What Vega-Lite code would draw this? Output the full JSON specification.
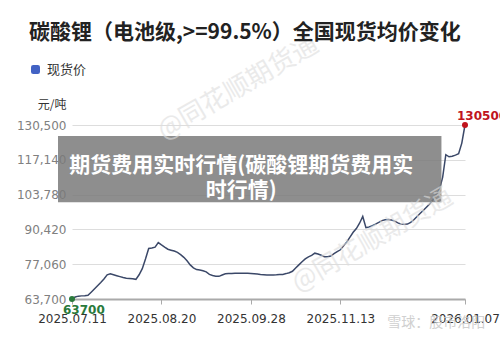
{
  "$schema": "https://vega.github.io/schema/vega-lite/v6.json",
  "width": 393,
  "height": 174,
  "autosize": {"type": "none"},
  "padding": {"left": 72, "top": 125, "right": 35, "bottom": 41},
  "background": "white",
  "title": {
    "text": "碳酸锂（电池级,>=99.5%）全国现货均价变化",
    "anchor": "start",
    "frame": "group",
    "dx": -43,
    "dy": 31,
    "font": "Noto Sans CJK SC",
    "fontSize": 21,
    "fontWeight": "bold",
    "color": "#222222",
    "offset": 20
  },
  "config": {
    "view": {"stroke": null},
    "font": "DejaVu Sans",
    "axis": {"labelOverlap": false, "labelBound": false, "labelFlush": false}
  },
  "datasets": {
    "prices": [
      {"date": "2025.07.11", "price": 63700},
      {"date": "2025.07.14", "price": 64450},
      {"date": "2025.07.15", "price": 64800},
      {"date": "2025.07.16", "price": 64900},
      {"date": "2025.07.17", "price": 64950},
      {"date": "2025.07.18", "price": 65100},
      {"date": "2025.07.21", "price": 66300},
      {"date": "2025.07.22", "price": 67550},
      {"date": "2025.07.23", "price": 68800},
      {"date": "2025.07.24", "price": 70000},
      {"date": "2025.07.25", "price": 71350},
      {"date": "2025.07.28", "price": 72950},
      {"date": "2025.07.29", "price": 73350},
      {"date": "2025.07.30", "price": 73000},
      {"date": "2025.07.31", "price": 72650},
      {"date": "2025.08.01", "price": 72300},
      {"date": "2025.08.04", "price": 71950},
      {"date": "2025.08.05", "price": 71700},
      {"date": "2025.08.06", "price": 71600},
      {"date": "2025.08.07", "price": 71450},
      {"date": "2025.08.08", "price": 71250},
      {"date": "2025.08.11", "price": 73000},
      {"date": "2025.08.12", "price": 75350},
      {"date": "2025.08.13", "price": 79050},
      {"date": "2025.08.14", "price": 83100},
      {"date": "2025.08.15", "price": 83250},
      {"date": "2025.08.18", "price": 83600},
      {"date": "2025.08.19", "price": 85350},
      {"date": "2025.08.20", "price": 84450},
      {"date": "2025.08.21", "price": 83600},
      {"date": "2025.08.22", "price": 82800},
      {"date": "2025.08.25", "price": 82450},
      {"date": "2025.08.26", "price": 82100},
      {"date": "2025.08.27", "price": 81600},
      {"date": "2025.08.28", "price": 80750},
      {"date": "2025.08.29", "price": 79700},
      {"date": "2025.09.01", "price": 78350},
      {"date": "2025.09.02", "price": 76800},
      {"date": "2025.09.03", "price": 75650},
      {"date": "2025.09.04", "price": 75000},
      {"date": "2025.09.05", "price": 74800},
      {"date": "2025.09.08", "price": 74550},
      {"date": "2025.09.09", "price": 74100},
      {"date": "2025.09.10", "price": 73150},
      {"date": "2025.09.11", "price": 72750},
      {"date": "2025.09.12", "price": 72450},
      {"date": "2025.09.15", "price": 72400},
      {"date": "2025.09.16", "price": 72900},
      {"date": "2025.09.17", "price": 73350},
      {"date": "2025.09.18", "price": 73450},
      {"date": "2025.09.19", "price": 73450},
      {"date": "2025.09.22", "price": 73550},
      {"date": "2025.09.23", "price": 73600},
      {"date": "2025.09.24", "price": 73600},
      {"date": "2025.09.25", "price": 73600},
      {"date": "2025.09.26", "price": 73550},
      {"date": "2025.09.28", "price": 73500},
      {"date": "2025.09.29", "price": 73400},
      {"date": "2025.09.30", "price": 73300},
      {"date": "2025.10.09", "price": 73150},
      {"date": "2025.10.10", "price": 73050},
      {"date": "2025.10.13", "price": 72950},
      {"date": "2025.10.14", "price": 72900},
      {"date": "2025.10.15", "price": 72950},
      {"date": "2025.10.16", "price": 73000},
      {"date": "2025.10.17", "price": 73100},
      {"date": "2025.10.20", "price": 73150},
      {"date": "2025.10.21", "price": 73450},
      {"date": "2025.10.22", "price": 73800},
      {"date": "2025.10.23", "price": 74350},
      {"date": "2025.10.24", "price": 75600},
      {"date": "2025.10.27", "price": 76800},
      {"date": "2025.10.28", "price": 78000},
      {"date": "2025.10.29", "price": 79100},
      {"date": "2025.10.30", "price": 79900},
      {"date": "2025.10.31", "price": 80450},
      {"date": "2025.11.03", "price": 81300},
      {"date": "2025.11.04", "price": 80950},
      {"date": "2025.11.05", "price": 80500},
      {"date": "2025.11.06", "price": 79950},
      {"date": "2025.11.07", "price": 79900},
      {"date": "2025.11.10", "price": 80200},
      {"date": "2025.11.11", "price": 81100},
      {"date": "2025.11.12", "price": 81850},
      {"date": "2025.11.13", "price": 82600},
      {"date": "2025.11.14", "price": 84100},
      {"date": "2025.11.17", "price": 85600},
      {"date": "2025.11.18", "price": 87450},
      {"date": "2025.11.19", "price": 89300},
      {"date": "2025.11.20", "price": 90750},
      {"date": "2025.11.21", "price": 92800},
      {"date": "2025.11.24", "price": 95400},
      {"date": "2025.11.25", "price": 91100},
      {"date": "2025.11.26", "price": 91350},
      {"date": "2025.11.27", "price": 91850},
      {"date": "2025.11.28", "price": 92450},
      {"date": "2025.12.01", "price": 93100},
      {"date": "2025.12.02", "price": 93800},
      {"date": "2025.12.03", "price": 94150},
      {"date": "2025.12.04", "price": 94200},
      {"date": "2025.12.05", "price": 94000},
      {"date": "2025.12.08", "price": 93600},
      {"date": "2025.12.09", "price": 92950},
      {"date": "2025.12.10", "price": 92400},
      {"date": "2025.12.11", "price": 92350},
      {"date": "2025.12.12", "price": 92450},
      {"date": "2025.12.15", "price": 93100},
      {"date": "2025.12.16", "price": 94100},
      {"date": "2025.12.17", "price": 95350},
      {"date": "2025.12.18", "price": 96600},
      {"date": "2025.12.19", "price": 97800},
      {"date": "2025.12.22", "price": 99050},
      {"date": "2025.12.23", "price": 100250},
      {"date": "2025.12.24", "price": 101800},
      {"date": "2025.12.25", "price": 103750},
      {"date": "2025.12.26", "price": 105750},
      {"date": "2025.12.29", "price": 110400},
      {"date": "2025.12.30", "price": 119100},
      {"date": "2025.12.31", "price": 118300},
      {"date": "2026.01.02", "price": 118500},
      {"date": "2026.01.04", "price": 118950},
      {"date": "2026.01.05", "price": 119450},
      {"date": "2026.01.06", "price": 123550},
      {"date": "2026.01.07", "price": 130500}
    ],
    "single": [{}]
  },
  "data": {"name": "prices"},
  "layer": [
    {
      "mark": {"type": "line", "strokeWidth": 1.5, "interpolate": "linear"},
      "encoding": {
        "x": {
          "field": "date",
          "type": "ordinal",
          "sort": null,
          "scale": {"type": "point", "padding": 0},
          "axis": {
            "title": null,
            "values": ["2025.07.11", "2025.08.20", "2025.09.28", "2025.11.13", "2026.01.07"],
            "labelAngle": 0,
            "labelAlign": "center",
            "labelBaseline": "top",
            "labelFont": "DejaVu Sans",
            "labelFontSize": 12,
            "labelColor": "#333333",
            "labelPadding": 9,
            "labelOverlap": false,
            "labelFlush": false,
            "labelBound": false,
            "tickSize": 5,
            "tickColor": "#aaaaaa",
            "domainColor": "#aaaaaa",
            "domainWidth": 2,
            "grid": false
          }
        },
        "y": {
          "field": "price",
          "type": "quantitative",
          "scale": {"domain": [63700, 130500], "nice": false, "zero": false},
          "axis": {
            "title": "元/吨",
            "values": [63700, 77060, 90420, 103780, 117140, 130500],
            "tickCount": 6,
            "format": ",d",
            "labelFont": "DejaVu Sans",
            "labelFontSize": 12,
            "labelColor": "#808080",
            "labelPadding": 6,
            "labelOverlap": false,
            "labelFlush": false,
            "labelBound": false,
            "ticks": false,
            "domain": false,
            "gridColor": "#dddddd",
            "titleAngle": 0,
            "titleFont": "Noto Sans CJK SC",
            "titleFontSize": 12,
            "titleFontWeight": "normal",
            "titleColor": "#333333",
            "titleAlign": "right",
            "titleBaseline": "middle",
            "titleX": -6,
            "titleY": -21
          }
        },
        "color": {
          "datum": "现货价",
          "type": "nominal",
          "scale": {"range": ["#3b4868"]},
          "legend": {
            "title": null,
            "orient": "none",
            "legendX": -43,
            "legendY": -62,
            "padding": 0,
            "symbolType": "M-1,-0.5Q-1,-1,-0.5,-1L0.5,-1Q1,-1,1,-0.5L1,0.5Q1,1,0.5,1L-0.5,1Q-1,1,-1,0.5Z",
            "symbolSize": 81,
            "labelFont": "Noto Sans CJK SC",
            "labelFontSize": 13,
            "labelColor": "#333333",
            "labelOffset": 5,
            "encode": {"symbols": {"update": {"fill": {"value": "#4262c4"}, "stroke": {"value": "#4262c4"}, "strokeWidth": {"value": 0}}}}
          }
        }
      }
    },
    {
      "transform": [{"filter": "datum.date === '2025.07.11'"}],
      "mark": {"type": "circle", "size": 36, "color": "#2a7a3b", "opacity": 1},
      "encoding": {
        "x": {"field": "date", "type": "ordinal"},
        "y": {"field": "price", "type": "quantitative"}
      }
    },
    {
      "transform": [{"filter": "datum.date === '2025.07.11'"}],
      "mark": {"type": "text", "align": "left", "baseline": "alphabetic", "dx": -9, "dy": 15, "font": "DejaVu Sans", "fontSize": 12, "fontWeight": "bold", "color": "#2a7a3b"},
      "encoding": {
        "x": {"field": "date", "type": "ordinal"},
        "y": {"field": "price", "type": "quantitative"},
        "text": {"field": "price", "type": "quantitative", "format": "d"}
      }
    },
    {
      "transform": [{"filter": "datum.date === '2026.01.07'"}],
      "mark": {"type": "circle", "size": 36, "color": "#c0141e", "opacity": 1},
      "encoding": {
        "x": {"field": "date", "type": "ordinal"},
        "y": {"field": "price", "type": "quantitative"}
      }
    },
    {
      "transform": [{"filter": "datum.date === '2026.01.07'"}],
      "mark": {"type": "text", "align": "left", "baseline": "alphabetic", "dx": -8, "dy": -5, "font": "DejaVu Sans", "fontSize": 12, "fontWeight": "bold", "color": "#c0141e"},
      "encoding": {
        "x": {"field": "date", "type": "ordinal"},
        "y": {"field": "price", "type": "quantitative"},
        "text": {"field": "price", "type": "quantitative", "format": "d"}
      }
    },
    {
      "data": {"name": "single"},
      "mark": {"type": "rect", "color": "#7a7a7a", "opacity": 0.85, "xOffset": -14, "x2Offset": 2},
      "encoding": {
        "x": {"datum": "2025.07.11", "type": "ordinal"},
        "x2": {"datum": "2025.12.26"},
        "y": {"datum": 126250, "type": "quantitative"},
        "y2": {"datum": 100850}
      }
    },
    {
      "data": {"name": "single"},
      "mark": {"type": "text", "text": "期货费用实时行情(碳酸锂期货费用实\n时行情)", "lineBreak": "\n", "lineHeight": 25, "align": "center", "baseline": "middle", "font": "Noto Sans CJK SC", "fontSize": 21, "fontWeight": "bold", "color": "#ffffff"},
      "encoding": {
        "x": {"datum": "2025.09.24", "type": "ordinal"},
        "y": {"datum": 114900, "type": "quantitative"}
      }
    },
    {
      "data": {"name": "single"},
      "mark": {"type": "text", "text": "@同花顺期货通", "angle": -30, "font": "Noto Sans CJK SC", "fontSize": 26, "color": "#dddddd", "opacity": 0.6, "align": "center", "baseline": "middle"},
      "encoding": {
        "x": {"datum": "2025.09.23", "type": "ordinal"},
        "y": {"datum": 144700, "type": "quantitative"}
      }
    },
    {
      "data": {"name": "single"},
      "mark": {"type": "text", "text": "@同花顺期货通", "angle": -30, "font": "Noto Sans CJK SC", "fontSize": 26, "color": "#dddddd", "opacity": 0.6, "align": "center", "baseline": "middle"},
      "encoding": {
        "x": {"datum": "2025.11.27", "type": "ordinal"},
        "y": {"datum": 86240, "type": "quantitative"}
      }
    },
    {
      "data": {"name": "single"},
      "mark": {"type": "text", "text": "雪球：股市洛阳", "align": "center", "baseline": "middle", "font": "Noto Sans CJK SC", "fontSize": 14, "color": "#c8c8c8", "opacity": 0.85},
      "encoding": {
        "x": {"datum": "2025.12.25", "type": "ordinal"},
        "y": {"datum": 54400, "type": "quantitative"}
      }
    }
  ]
}
